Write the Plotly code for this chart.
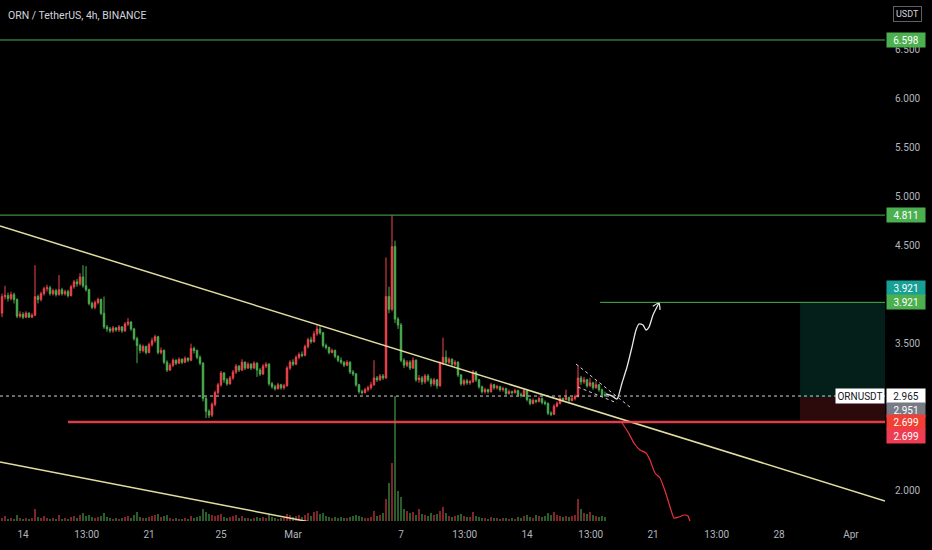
import plotly.graph_objects as go
import pandas as pd

title_text = "ORN / TetherUS, 4h, BINANCE"
start_time = "2022-02-12 20:00"
first_open = 3.81

closes = [
    3.98, 3.99, 3.96, 4.00, 3.95, 3.78, 3.80, 3.77, 3.81, 3.77,
    3.79, 3.98, 3.95, 4.01, 4.06, 4.07, 4.01, 4.04, 4.00, 4.05,
    4.01, 4.03, 3.99, 4.08, 4.13, 4.11, 4.18, 4.09, 4.05, 3.91,
    3.87, 3.92, 3.95, 3.81, 3.67, 3.65, 3.63, 3.66, 3.64, 3.67,
    3.63, 3.70, 3.72, 3.65, 3.55, 3.48, 3.43, 3.47, 3.41, 3.49,
    3.53, 3.57, 3.41, 3.43, 3.31, 3.23, 3.28, 3.33, 3.30, 3.34,
    3.31, 3.35, 3.33, 3.45, 3.43, 3.36, 3.30, 2.94, 2.81, 2.77,
    2.88, 3.00, 3.08, 3.20, 3.13, 3.09, 3.15, 3.21, 3.27, 3.23,
    3.31, 3.25, 3.29, 3.25, 3.30, 3.23, 3.19, 3.27, 3.29, 3.09,
    3.06, 3.04, 3.08, 3.05, 3.07, 3.25, 3.31, 3.29, 3.36, 3.39,
    3.38, 3.47, 3.54, 3.52, 3.60, 3.65, 3.61, 3.48, 3.46, 3.41,
    3.43, 3.37, 3.33, 3.31, 3.28, 3.31, 3.21, 3.19, 3.08, 3.01,
    3.00, 3.03, 3.05, 3.08, 3.15, 3.13, 3.17, 3.15, 3.98, 3.85,
    4.49, 3.75, 3.69, 3.33, 3.28, 3.31, 3.25, 3.33, 3.13, 3.15,
    3.11, 3.17, 3.13, 3.09, 3.13, 3.07, 3.30, 3.36, 3.31, 3.34,
    3.29, 3.31, 3.18, 3.09, 3.12, 3.10, 3.11, 3.21, 3.13, 3.06,
    3.01, 3.03, 3.01, 3.08, 3.05, 3.06, 3.03, 3.04, 2.99, 3.01,
    3.00, 3.02, 2.98, 2.97, 3.02, 2.93, 2.89, 2.92, 2.91, 2.94,
    2.90, 2.89, 2.79, 2.78, 2.86, 2.89, 2.94, 2.93, 2.95, 2.92,
    2.94, 2.96, 3.15, 3.11, 3.13, 3.07, 3.10, 3.05, 3.08, 3.03,
    2.98, 2.965,
]

highs = [
    4.01, 4.09, 4.02, 4.03, 4.02, 3.96, 3.83, 3.82, 3.83, 3.82,
    3.81, 4.30, 4.00, 4.03, 4.08, 4.10, 4.09, 4.06, 4.06, 4.20,
    4.07, 4.05, 4.05, 4.10, 4.15, 4.16, 4.22, 4.30, 4.29, 4.06,
    3.93, 3.94, 3.97, 3.96, 3.98, 3.69, 3.67, 3.68, 3.67, 3.69,
    3.68, 3.72, 3.76, 3.73, 3.66, 3.57, 3.50, 3.49, 3.48, 3.51,
    3.56, 3.59, 3.58, 3.46, 3.44, 3.33, 3.30, 3.35, 3.34, 3.36,
    3.35, 3.37, 3.36, 3.50, 3.47, 3.44, 3.38, 3.31, 2.96, 2.83,
    2.90, 3.02, 3.10, 3.22, 3.21, 3.15, 3.17, 3.23, 3.29, 3.28,
    3.34, 3.32, 3.31, 3.30, 3.32, 3.31, 3.25, 3.29, 3.31, 3.30,
    3.11, 3.08, 3.10, 3.09, 3.09, 3.27, 3.33, 3.34, 3.38, 3.41,
    3.42, 3.49, 3.56, 3.57, 3.63, 3.69, 3.68, 3.62, 3.50, 3.47,
    3.45, 3.44, 3.38, 3.36, 3.32, 3.33, 3.32, 3.23, 3.20, 3.09,
    3.03, 3.05, 3.07, 3.11, 3.33, 3.17, 3.19, 3.19, 4.38, 4.08,
    4.81, 4.55, 3.77, 3.71, 3.35, 3.33, 3.33, 3.36, 3.34, 3.18,
    3.17, 3.19, 3.19, 3.15, 3.15, 3.14, 3.32, 3.56, 3.43, 3.36,
    3.35, 3.33, 3.32, 3.19, 3.14, 3.14, 3.13, 3.23, 3.22, 3.14,
    3.07, 3.05, 3.04, 3.10, 3.09, 3.08, 3.07, 3.06, 3.05, 3.03,
    3.02, 3.04, 3.03, 3.00, 3.04, 3.03, 2.94, 2.94, 2.93, 2.96,
    2.95, 2.92, 2.90, 2.81, 2.88, 2.91, 2.96, 2.95, 3.03, 2.96,
    2.96, 2.98, 3.28, 3.17, 3.16, 3.14, 3.15, 3.11, 3.12, 3.09,
    3.04, 3.01,
]

lows = [
    3.77, 3.95, 3.93, 3.94, 3.91, 3.76, 3.76, 3.75, 3.76, 3.76,
    3.76, 3.78, 3.91, 3.93, 3.99, 4.03, 3.99, 3.99, 3.98, 3.99,
    3.99, 3.99, 3.97, 3.98, 4.06, 4.08, 4.09, 4.07, 4.03, 3.89,
    3.85, 3.85, 3.90, 3.79, 3.65, 3.62, 3.61, 3.61, 3.62, 3.62,
    3.61, 3.62, 3.68, 3.63, 3.53, 3.30, 3.40, 3.41, 3.39, 3.40,
    3.47, 3.51, 3.39, 3.39, 3.29, 3.21, 3.22, 3.26, 3.28, 3.29,
    3.29, 3.30, 3.31, 3.32, 3.40, 3.34, 3.28, 2.91, 2.74, 2.74,
    2.75, 2.86, 2.98, 3.06, 3.10, 3.07, 3.08, 3.13, 3.19, 3.21,
    3.22, 3.23, 3.24, 3.23, 3.24, 3.16, 3.17, 3.18, 3.25, 3.07,
    3.04, 3.02, 3.03, 3.03, 3.03, 3.06, 3.23, 3.27, 3.28, 3.34,
    3.36, 3.37, 3.45, 3.50, 3.51, 3.58, 3.59, 3.46, 3.44, 3.39,
    3.40, 3.35, 3.31, 3.29, 3.26, 3.27, 3.19, 3.17, 3.06, 2.99,
    2.98, 2.99, 3.01, 3.03, 3.07, 3.11, 3.12, 3.13, 3.14, 3.81,
    3.83, 3.71, 3.65, 3.31, 3.25, 3.26, 3.23, 3.24, 3.11, 3.10,
    3.08, 3.09, 3.11, 3.06, 3.07, 3.04, 3.06, 3.28, 3.29, 3.29,
    3.27, 3.27, 3.16, 3.07, 3.07, 3.08, 3.08, 3.10, 3.11, 3.04,
    2.99, 2.99, 2.99, 3.00, 3.03, 3.03, 3.01, 3.01, 2.97, 2.98,
    2.98, 2.99, 2.96, 2.95, 2.96, 2.91, 2.87, 2.88, 2.89, 2.90,
    2.88, 2.87, 2.77, 2.76, 2.77, 2.85, 2.88, 2.91, 2.92, 2.90,
    2.91, 2.92, 2.95, 3.08, 3.09, 3.05, 3.06, 3.03, 3.04, 3.01,
    2.97, 2.96,
]

volumes = [
    3, 5, 2, 3, 2, 6, 3, 2, 3, 2,
    3, 12, 4, 3, 5, 3, 2, 3, 2, 6,
    2, 3, 2, 4, 5, 3, 6, 8, 5, 6,
    4, 3, 4, 5, 8, 4, 3, 2, 3, 2,
    3, 4, 5, 3, 6, 9, 4, 3, 3, 4,
    5, 6, 7, 4, 5, 6, 3, 2, 3, 2,
    2, 3, 2, 5, 3, 4, 5, 12, 9, 7,
    6, 5, 6, 7, 4, 3, 4, 5, 6, 3,
    5, 3, 3, 2, 3, 4, 3, 4, 3, 7,
    4, 3, 2, 3, 3, 7, 6, 4, 5, 6,
    4, 6, 8, 5, 9, 10, 7, 8, 5, 4,
    3, 4, 3, 4, 3, 3, 4, 5, 6, 5,
    4, 3, 3, 4, 10, 5, 6, 8, 22, 38,
    58, 125, 30, 24, 12, 10, 8, 9, 6, 12,
    7, 6, 5, 8, 6, 7, 10, 14, 8, 5,
    4, 5, 6, 7, 5, 4, 4, 9, 5, 4,
    3, 3, 2, 4, 3, 3, 2, 3, 3, 2,
    3, 2, 4, 3, 5, 6, 4, 3, 6, 5,
    4, 5, 8, 6, 9, 6, 5, 4, 5, 4,
    5, 6, 22, 12, 8, 7, 9, 6, 5, 4,
    5, 4,
]

# Key levels
resistance_levels = [6.598, 4.811]
target_price = 3.921
entry_price = 2.951
stop_price = 2.699
last_price = 2.965

# Drawings: day offsets from 2022-02-14 00:00 and prices
base_date = "2022-02-14"
view_days = [-1.278, 47.889]
target_line_start_day = 32.06
stop_line_start_day = 2.5
position_start_day = 43.17
upper_trend_days = [-1.278, 47.889]
upper_trend_prices = [4.700, 1.894]
lower_trend_days = [-1.278, 15.944]
lower_trend_prices = [2.292, 1.680]
wedge_upper_days = [30.72, 33.72]
wedge_upper_prices = [3.292, 2.853]
wedge_lower_days = [30.83, 33.0]
wedge_lower_prices = [3.057, 2.894]
bull_path_days = [32.389, 32.722, 33.0, 33.278, 33.556, 33.833, 34.056, 34.222,
                  34.444, 34.611, 34.778, 35.0, 35.333]
bull_path_prices = [2.986, 2.965, 2.935, 3.098, 3.261, 3.465, 3.639, 3.700,
                    3.690, 3.639, 3.669, 3.792, 3.914]
arrow_head_days = [34.989, 35.333, 35.389]
arrow_head_prices = [3.881, 3.914, 3.844]
bear_path_days = [33.278, 33.611, 33.944, 34.278, 34.611, 34.833, 35.111, 35.389,
                  35.611, 35.778, 36.0, 36.167, 36.444, 36.722, 36.944, 37.111]
bear_path_prices = [2.690, 2.598, 2.486, 2.414, 2.384, 2.312, 2.180, 2.129,
                    2.026, 1.935, 1.802, 1.720, 1.731, 1.751, 1.741, 1.639]

x_tick_dates = ["2022-02-14", "2022-02-17 13:00", "2022-02-21", "2022-02-25",
                "2022-03-01", "2022-03-07", "2022-03-10 13:00", "2022-03-14",
                "2022-03-17 13:00", "2022-03-21", "2022-03-24 13:00",
                "2022-03-28", "2022-04-01"]
x_tick_text = ["14", "13:00", "21", "25", "Mar", "7", "13:00", "14", "13:00",
               "21", "13:00", "28", "Apr"]
y_tick_vals = [2.0, 3.5, 4.5, 5.0, 5.5, 6.0, 6.5]
price_range = [1.690, 7.006]

# ----------------------------------------------------------------------
RED = "#f0454f"
GREEN = "#4caf50"
YELLOW = "#e3dca0"
TXT = "#b2b5be"
FONT = "Roboto"

base = pd.Timestamp(base_date)


def at(days_list):
    return [base + pd.Timedelta(days=d) for d in days_list]


times = pd.date_range(start_time, periods=len(closes), freq="4h")
opens = [first_open] + closes[:-1]
vol_colors = ["rgba(240,69,79,0.6)" if c >= o else "rgba(76,175,80,0.6)"
              for o, c in zip(opens, closes)]
x0, x1 = at(view_days)

fig = go.Figure()
fig.add_trace(go.Bar(x=times, y=volumes, marker_color=vol_colors,
                     marker_line_width=0, width=4 * 3600 * 1000 * 0.6,
                     yaxis="y", hoverinfo="skip"))
fig.add_trace(go.Candlestick(
    x=times, open=opens, high=highs, low=lows, close=closes, yaxis="y2",
    increasing=dict(line=dict(color=RED, width=1), fillcolor=RED),
    decreasing=dict(line=dict(color=GREEN, width=1), fillcolor=GREEN),
    whiskerwidth=0, hoverinfo="skip"))

line_traces = [
    (upper_trend_days, upper_trend_prices, YELLOW, 1.5, "solid"),
    (lower_trend_days, lower_trend_prices, YELLOW, 1.5, "solid"),
    (wedge_upper_days, wedge_upper_prices, "#cfd2d8", 1, "dot"),
    (wedge_lower_days, wedge_lower_prices, "#cfd2d8", 1, "dot"),
    (bull_path_days, bull_path_prices, "#e8e8e8", 1.3, "solid"),
    (arrow_head_days, arrow_head_prices, "#e8e8e8", 1.3, "solid"),
    (bear_path_days, bear_path_prices, "#e8323f", 1.2, "solid"),
]
for d, p, col, w, dash in line_traces:
    fig.add_trace(go.Scatter(x=at(d), y=p, mode="lines", yaxis="y2",
                             line=dict(color=col, width=w, dash=dash,
                                       shape="spline", smoothing=0.6),
                             hoverinfo="skip"))

shapes = []
tgt_start = at([target_line_start_day])[0]
stop_start = at([stop_line_start_day])[0]
pos_start = at([position_start_day])[0]
# long position boxes
shapes.append(dict(type="rect", xref="x", yref="y2", x0=pos_start, x1=x1,
                   y0=entry_price, y1=target_price, line_width=0,
                   fillcolor="rgba(20,150,130,0.2)", layer="below"))
shapes.append(dict(type="rect", xref="x", yref="y2", x0=pos_start, x1=x1,
                   y0=stop_price, y1=entry_price, line_width=0,
                   fillcolor="rgba(242,54,69,0.18)", layer="below"))
for lv in resistance_levels:
    shapes.append(dict(type="line", xref="paper", yref="y2", x0=0, x1=1,
                       y0=lv, y1=lv, line=dict(color=GREEN, width=1)))
shapes.append(dict(type="line", xref="x", yref="y2", x0=tgt_start, x1=x1,
                   y0=target_price, y1=target_price,
                   line=dict(color=GREEN, width=1)))
shapes.append(dict(type="line", xref="x", yref="y2", x0=stop_start, x1=x1,
                   y0=stop_price, y1=stop_price,
                   line=dict(color="rgba(242,70,80,0.9)", width=2.5)))
shapes.append(dict(type="line", xref="paper", yref="y2", x0=0, x1=1,
                   y0=last_price, y1=last_price,
                   line=dict(color="#d1d4dc", width=1, dash="dot")))

annotations = []


def price_label(val, bg, fg="#ffffff", yshift=0):
    annotations.append(dict(
        x=1, xref="paper", xanchor="left", xshift=1, y=val, yref="y2",
        yanchor="middle", yshift=yshift, text=f"{val:.3f}", showarrow=False,
        bgcolor=bg, width=38, height=14, borderpad=0,
        font=dict(family=FONT, size=10, color=fg)))


price_label(resistance_levels[0], "#4caf50")
price_label(resistance_levels[1], "#4caf50")
price_label(target_price, "#17a096", yshift=14)
price_label(target_price, "#4caf50")
price_label(last_price, "#ffffff", fg="#131722")
price_label(entry_price, "#787b86", yshift=-13)
price_label(stop_price, "#f23f33")
price_label(stop_price, "#ee3d52", yshift=-14)
annotations.append(dict(
    x=1, xref="paper", xanchor="right", xshift=0, y=last_price, yref="y2",
    yanchor="middle", text="ORNUSDT", showarrow=False, bgcolor="#ffffff",
    width=48, height=14, borderpad=0,
    font=dict(family=FONT, size=10, color="#131722")))
annotations.append(dict(
    x=0, xref="paper", xanchor="left", xshift=6, y=(521 - 15) / 521,
    yref="paper", yanchor="middle", text=title_text, showarrow=False,
    font=dict(family=FONT, size=10.5, color="#d1d4dc")))
annotations.append(dict(
    x=1, xref="paper", xanchor="left", xshift=8, y=(521 - 14) / 521,
    yref="paper", yanchor="middle", text="USDT", showarrow=False,
    bordercolor="#5d606b", borderwidth=1, borderpad=2,
    font=dict(family=FONT, size=9, color="#d1d4dc")))

fig.update_layout(
    width=932, height=550,
    margin=dict(l=0, r=47, t=0, b=29),
    paper_bgcolor="#000000", plot_bgcolor="#000000",
    showlegend=False,
    shapes=shapes, annotations=annotations,
    xaxis=dict(type="date", range=[x0, x1], tickvals=x_tick_dates,
               ticktext=x_tick_text, showgrid=False, zeroline=False,
               showline=False, ticks="", rangeslider=dict(visible=False),
               ticklabelstandoff=6,
               tickfont=dict(family=FONT, size=10, color=TXT)),
    yaxis=dict(range=[0, 521], visible=False, showgrid=False, fixedrange=True),
    yaxis2=dict(overlaying="y", side="right", range=price_range,
                tickvals=y_tick_vals, tickformat=".3f", showgrid=False,
                zeroline=False, showline=False, ticks="",
                ticklabelstandoff=9,
                tickfont=dict(family=FONT, size=10, color=TXT)),
)

fig.write_html(
    "out.html",
    config={"displayModeBar": False},
    post_script="document.body.style.margin='0px';"
                "document.body.style.background='#000000';",
)
